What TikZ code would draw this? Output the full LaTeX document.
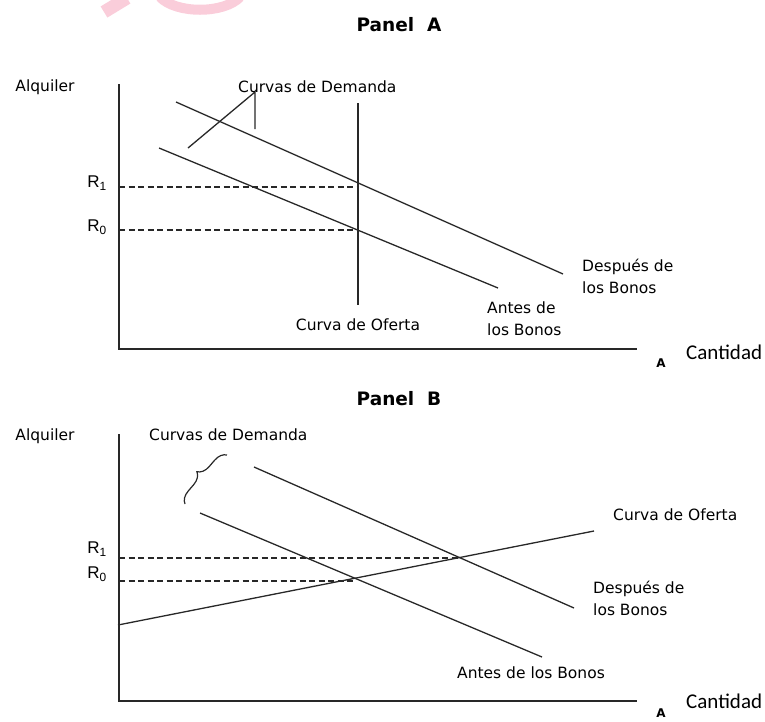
\documentclass[tikz,border=0pt]{standalone}
\usepackage{fontspec}
\setmainfont{DejaVu Sans}
\newfontfamily\calib{Carlito}
\newfontfamily\arialf{Liberation Sans}
\usetikzlibrary{decorations.pathreplacing}
\definecolor{ink}{RGB}{40,40,40}
\definecolor{wmark}{RGB}{250,205,218}
\tikzset{
  curve/.style={draw=ink, line width=1.3pt},
  dashline/.style={draw=ink, line width=1.2pt, dash pattern=on 6pt off 3.5pt},
  lab/.style={font=\fontsize{15.5}{22}\selectfont, text=black, inner sep=0pt},
  lableft/.style={lab, anchor=west, align=left},
  rlab/.style={font=\arialf\fontsize{17}{18}\selectfont, text=black, inner sep=0pt},
  ttl/.style={font=\bfseries\fontsize{18.5}{20}\selectfont, text=black, inner sep=0pt},
  cant/.style={font=\calib\fontsize{21}{22}\selectfont, text=black, inner sep=0pt, anchor=west},
  smallA/.style={font=\bfseries\fontsize{12}{13}\selectfont, text=black, inner sep=0pt}
}
\begin{document}
\begin{tikzpicture}[x=1pt,y=-1pt]
\useasboundingbox (0,0) rectangle (765,721);
% watermark fragments
\draw[wmark, line width=13pt] (127,-2) -- (104,12);
\draw[wmark, line width=10pt] (160,-3) .. controls (176,14) and (224,14) .. (240,-3);

% ---------- Panel A ----------
\node[ttl] (titleA) at (399,25) {Panel\ \ A};
\coordinate (oA) at (119,349);
\coordinate (ytopA) at (119,84);
\coordinate (xendA) at (637,349);
\draw[curve] (ytopA) -- (oA) -- (xendA);
\coordinate (dA1s) at (176,102);
\coordinate (dA1e) at (563,274);
\coordinate (dA0s) at (159,148);
\coordinate (dA0e) at (498,288);
\draw[curve] (dA1s) -- (dA1e);
\draw[curve] (dA0s) -- (dA0e);
\coordinate (sAt) at (358,103);
\coordinate (sAb) at (358,305);
\draw[curve] (sAt) -- (sAb);
\coordinate (r1Al) at (119,187);
\coordinate (r1Ar) at (358,187);
\coordinate (r0Al) at (119,230);
\coordinate (r0Ar) at (358,230);
\draw[dashline] (r1Al) -- (r1Ar);
\draw[dashline] (r0Al) -- (r0Ar);
\coordinate (ldA1) at (188,148);
\coordinate (ldA2) at (255,92);
\coordinate (ldA3) at (255,129);
\draw[curve] (ldA1) -- (ldA2) -- (ldA3);
\node[lab] (alqA) at (45,87) {Alquiler};
\node[lableft] (curvA) at (238,87) {Curvas de Demanda};
\node[rlab] (R1A) at (97,183) {R\textsubscript{1}};
\node[rlab] (R0A) at (97,227) {R\textsubscript{0}};
\node[lab] (ofA) at (358,325) {Curva de Oferta};
\node[lableft] (antA) at (487,319) {Antes de\\los Bonos};
\node[lableft] (desA) at (582,276) {Después de\\los Bonos};
\node[smallA] (aA) at (661,363) {A};
\node[cant] (cantA) at (686,352) {Cantidad};

% ---------- Panel B ----------
\node[ttl] (titleB) at (399,399) {Panel\ \ B};
\coordinate (oB) at (119,701);
\coordinate (ytopB) at (119,434);
\coordinate (xendB) at (637,701);
\draw[curve] (ytopB) -- (oB) -- (xendB);
\coordinate (dB1s) at (254,467);
\coordinate (dB1e) at (574,608);
\coordinate (dB0s) at (200,513);
\coordinate (dB0e) at (542,657);
\draw[curve] (dB1s) -- (dB1e);
\draw[curve] (dB0s) -- (dB0e);
\coordinate (sBs) at (118,625);
\coordinate (sBe) at (594,531);
\draw[curve] (sBs) -- (sBe);
\coordinate (r1Bl) at (119,558);
\coordinate (r1Br) at (459,558);
\coordinate (r0Bl) at (119,581);
\coordinate (r0Br) at (355,581);
\draw[dashline] (r1Bl) -- (r1Br);
\draw[dashline] (r0Bl) -- (r0Br);
\coordinate (brA) at (185,504);
\coordinate (brB) at (227,455);
\draw[draw=ink, line width=1.2pt, decorate, decoration={brace, amplitude=12pt}] (brA) -- (brB);
\node[lab] (alqB) at (45,436) {Alquiler};
\node[lableft] (curvB) at (149,435) {Curvas de Demanda};
\node[rlab] (R1B) at (97,549) {R\textsubscript{1}};
\node[rlab] (R0B) at (97,574) {R\textsubscript{0}};
\node[lableft] (ofB) at (613,515) {Curva de Oferta};
\node[lableft] (desB) at (593,598) {Después de\\los Bonos};
\node[lableft] (antB) at (457,673) {Antes de los Bonos};
\node[smallA] (aB) at (661,713) {A};
\node[cant] (cantB) at (686,701) {Cantidad};
\end{tikzpicture}
\end{document}
